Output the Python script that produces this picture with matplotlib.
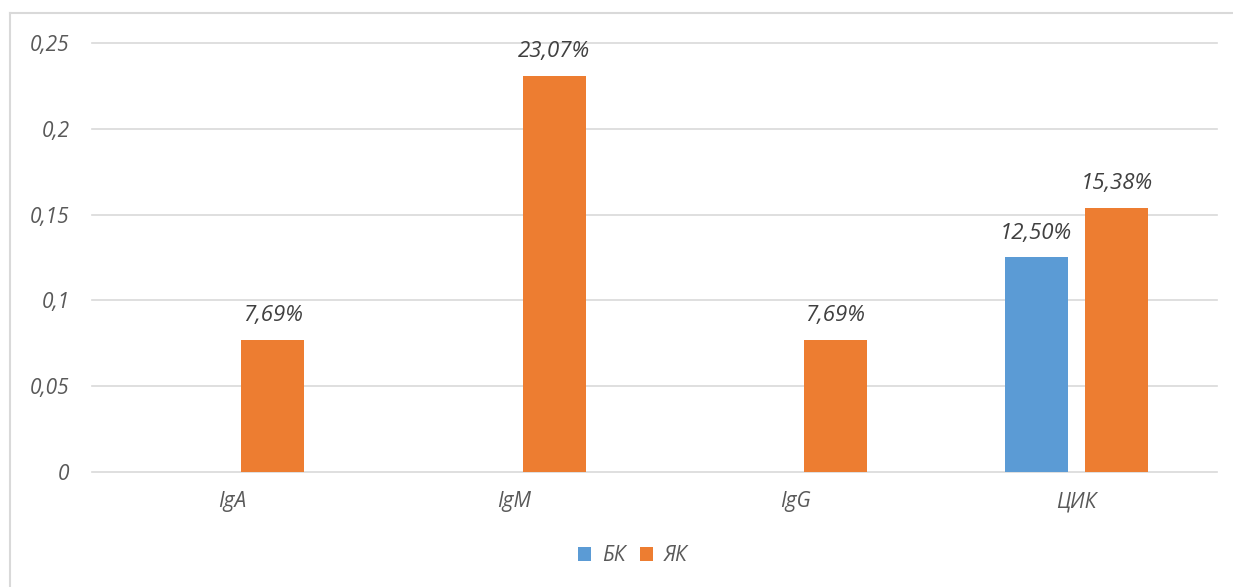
import numpy as np
import matplotlib.pyplot as plt
from matplotlib.lines import Line2D

categories = ["IgA", "IgM", "IgG", "ЦИК"]
bk_values = [0, 0, 0, 0.125]
yak_values = [0.0769, 0.2307, 0.0769, 0.1538]
bk_labels = ["", "", "", "12,50%"]
yak_labels = ["7,69%", "23,07%", "7,69%", "15,38%"]
yticks = [0, 0.05, 0.1, 0.15, 0.2, 0.25]
ytick_labels = ["0", "0,05", "0,1", "0,15", "0,2", "0,25"]

blue = "#5B9BD5"
orange = "#ED7D31"
grid_c = "#D9D9D9"
tick_c = "#595959"
label_c = "#404040"

plt.rcParams["font.family"] = ["Open Sans", "DejaVu Sans"]
plt.rcParams["font.style"] = "italic"

fig = plt.figure(figsize=(12.33, 5.87), dpi=100)
ax = fig.add_axes([0.0746, 0.196, 0.9124, 0.7307])

x = np.arange(len(categories))
w = 0.224
off = 0.143
b1 = ax.bar(x - off, bk_values, w, color=blue, label="БК", zorder=3)
b2 = ax.bar(x + off, yak_values, w, color=orange, label="ЯК", zorder=3)

for bars, labels in [(b1, bk_labels), (b2, yak_labels)]:
    for rect, lab in zip(bars, labels):
        if lab:
            ax.annotate(lab, (rect.get_x() + rect.get_width() / 2, rect.get_height()),
                        xytext=(0, 10), textcoords="offset points",
                        ha="center", va="bottom", fontsize=16, color=label_c,
                        style="italic")

for t in yticks:
    ax.axhline(t, color=grid_c, lw=1.2, zorder=1, clip_on=False)

ax.set_xlim(-0.5, len(categories) - 0.5)
ax.set_ylim(0, 0.25)
ax.set_yticks(yticks)
ax.set_yticklabels(ytick_labels)
ax.set_xticks(x)
ax.set_xticklabels(categories)
ax.tick_params(axis="both", length=0, labelsize=15, colors=tick_c)
ax.tick_params(axis="y", pad=16)
ax.tick_params(axis="x", pad=14)
for s in ax.spines.values():
    s.set_visible(False)

leg = fig.legend(loc="center", bbox_to_anchor=(0.513, 0.053), ncol=2, frameon=False,
                 fontsize=15, handlelength=0.65, handleheight=0.65,
                 handletextpad=0.5, columnspacing=0.7)
for t in leg.get_texts():
    t.set_color(tick_c)

# chart border (left and top visible)
fig.add_artist(Line2D([10 / 1233, 10 / 1233], [0, 1 - 13 / 587], color=grid_c, lw=1.5))
fig.add_artist(Line2D([10 / 1233, 1], [1 - 13 / 587, 1 - 13 / 587], color=grid_c, lw=1.5))

fig.savefig("out.png", dpi=100)
